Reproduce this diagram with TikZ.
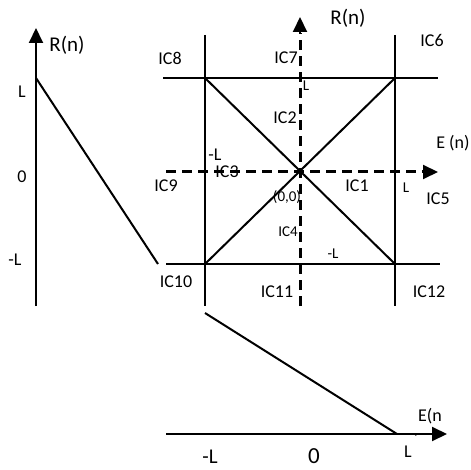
\documentclass[tikz,border=0pt]{standalone}
\usepackage{fontspec}
\setmainfont{Carlito}
\usetikzlibrary{arrows.meta}
\tikzset{
  ln/.style={line width=2pt, black},
  dsh/.style={line width=3pt, black, dash pattern=on 10pt off 6pt},
  tip/.style={-{Triangle[length=15pt,width=14pt]}},
  lab/.style={inner sep=0pt, font=\fontsize{18}{20}\selectfont},
  big/.style={inner sep=0pt, font=\fontsize{21}{23}\selectfont},
  sm/.style={inner sep=0pt, font=\fontsize{15}{17}\selectfont},
}
\begin{document}
\begin{tikzpicture}[x=1pt,y=-1pt]
\useasboundingbox (0,0) rectangle (471,470);
% left axis
\coordinate (la0) at (36,306);
\coordinate (la1) at (36,28);
\draw[ln,tip] (la0) -- (la1);
\coordinate (ld0) at (36,78);
\coordinate (ld1) at (158,264);
\draw[ln] (ld0) -- (ld1);
\node[big] (lR) at (67,45) {R(n)};
\node[lab] (lL) at (22,92) {L};
\node[lab] (l0) at (22,177) {0};
\node[lab] (lmL) at (15,260) {-L};
% square grid
\coordinate (vl0) at (205,35); \coordinate (vl1) at (205,306);
\coordinate (vr0) at (395,35); \coordinate (vr1) at (395,306);
\coordinate (ht0) at (163,78); \coordinate (ht1) at (438,78);
\coordinate (hb0) at (166,264); \coordinate (hb1) at (440,264);
\draw[ln] (vl0) -- (vl1);
\draw[ln] (vr0) -- (vr1);
\draw[ln] (ht0) -- (ht1);
\draw[ln] (hb0) -- (hb1);
\coordinate (tl) at (205,78); \coordinate (tr) at (395,78);
\coordinate (bl) at (205,264); \coordinate (br) at (395,264);
\draw[ln] (tl) -- (br);
\draw[ln] (bl) -- (tr);
% dashed axes
\coordinate (o) at (300,172);
\coordinate (dv0) at (300,306); \coordinate (dv1) at (300,17);
\coordinate (dh0) at (166,172); \coordinate (dh1) at (438,172);
\coordinate (dvm) at (300,33);
\coordinate (dhm) at (423,172);
\draw[dsh] (dv0) -- (dvm);
\draw[ln,tip] (dvm) -- (dv1);
\draw[dsh] (dh0) -- (dhm);
\draw[ln,tip] (dhm) -- (dh1);
% labels
\node[big] (tR) at (348,18) {R(n)};
\node[lab] (ic6) at (432,40) {IC6};
\node[lab] (ic8) at (170,58) {IC8};
\node[lab] (ic7) at (286,58) {IC7};
\node[sm] (tL) at (306,86) {L};
\node[lab] (ic2) at (285,118) {IC2};
\node[lab] (En) at (453,143) {E (n)};
\node[lab] (mL1) at (215,155) {-L};
\node[lab] (ic3) at (227,172) {IC3};
\node[lab] (ic9) at (166,186) {IC9};
\node[lab] (ic1) at (357,186) {IC1};
\node[sm] (rL) at (406,188) {L};
\node[lab] (ic5) at (438,199) {IC5};
\node[sm] (org) at (287,197) {(0,0)};
\node[sm] (ic4) at (288,232) {IC4};
\node[sm] (mL2) at (333,254) {-L};
\node[lab] (ic10) at (176,282) {IC10};
\node[lab] (ic11) at (277,292) {IC11};
\node[lab] (ic12) at (429,292) {IC12};
% bottom axis
\coordinate (ba0) at (166,434);
\coordinate (ba1) at (447,434);
\draw[ln,tip] (ba0) -- (ba1);
\coordinate (bd0) at (205,313);
\coordinate (bd1) at (397,434);
\draw[ln] (bd0) -- (bd1);
\node[lab] (bE) at (430,416) {E(n};
\node[lab] (bL) at (408,452) {L};
\node[sm] (bq) at (415,439) {\textasciigrave};
\node[big] (bmL) at (210,457) {-L};
\node[font=\fontsize{23}{25}\selectfont, inner sep=0pt] (b0) at (314,456) {0};
\end{tikzpicture}
\end{document}
